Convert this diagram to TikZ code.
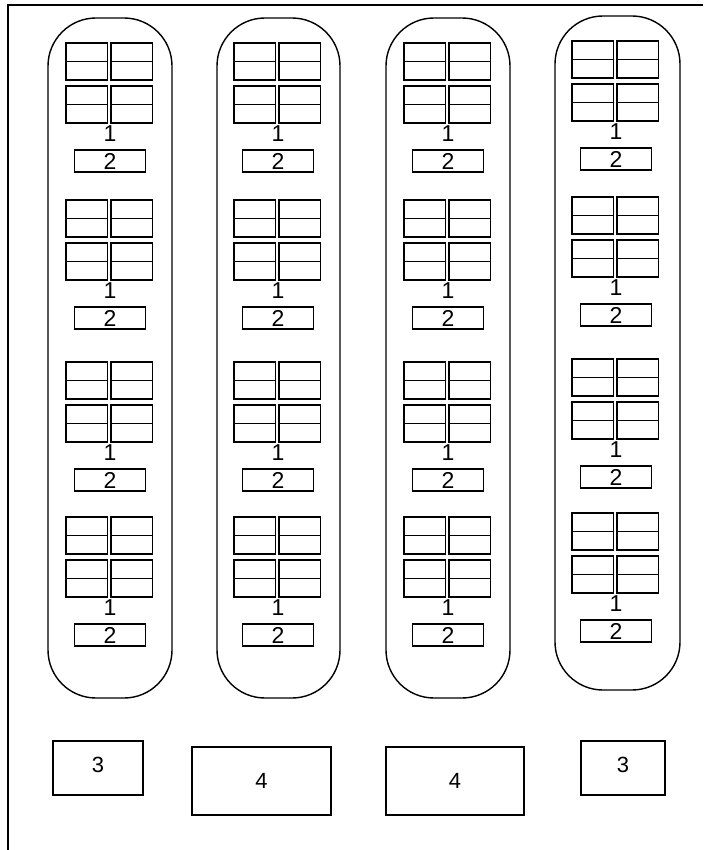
\documentclass[tikz,border=0pt]{standalone}
\usepackage{fontspec}
\setmainfont{Liberation Sans}
\begin{document}
\begin{tikzpicture}[x=1pt,y=-1pt,
  ln/.style={draw=black,line width=1.3pt},
  capsule/.style={draw=black,line width=1.4pt,rounded corners=48pt},
  cell/.style={draw=black,line width=1.3pt},
  lbl/.style={inner sep=0pt,font=\fontsize{23}{23}\selectfont},
  boxtwo/.style={draw=black,line width=1.1pt,minimum width=71pt,minimum height=22pt,inner sep=0pt,font=\fontsize{23}{23}\selectfont},
  bigbox/.style={draw=black,line width=1.4pt,inner sep=0pt,font=\fontsize{22}{22}\selectfont}]
\useasboundingbox (0,0) rectangle (703,850);
\fill[white] (0,0) rectangle (703,850);
% frame
\coordinate (fa) at (8,850);
\coordinate (fb) at (8,5);
\coordinate (fc) at (703,5);
\draw[ln] (fa) -- (fb) -- (fc);
% capsules
\foreach \i/\l/\r/\t/\b in {1/48/172/18/698, 2/217/340/18/698, 3/386/510/18/698, 4/555/680/16/690}{
  \draw[capsule] (\l,\t) rectangle (\r,\b);
}
% units
\foreach \c/\gx/\tops in {1/66/{43,200,362,517}, 2/234/{43,200,362,517}, 3/404/{43,200,362,517}, 4/572/{41,197,359,513}}{
  \foreach \ty [count=\k] in \tops {
    \begin{scope}[shift={(\gx,\ty)}]
      \foreach \xx in {0,45}{
        \foreach \yy in {0,43}{
          \draw[cell] (\xx,\yy) rectangle ++(41.5,37);
          \draw[cell] (\xx,\yy+18.5) -- ++(41.5,0);
        }
      }
      \node[lbl] (one-\c-\k) at (44,91) {1};
      \node[boxtwo] (two-\c-\k) at (44,118) {2};
    \end{scope}
  }
}
% bottom boxes
\node[bigbox,minimum width=90pt,minimum height=54pt] (b3l) at (98,768) {\raisebox{6pt}{3}};
\node[bigbox,minimum width=139pt,minimum height=68pt] (b4l) at (261.5,781) {4};
\node[bigbox,minimum width=138pt,minimum height=68pt] (b4r) at (455,781) {4};
\node[bigbox,minimum width=84pt,minimum height=54pt] (b3r) at (623,768) {\raisebox{6pt}{3}};
\end{tikzpicture}
\end{document}
